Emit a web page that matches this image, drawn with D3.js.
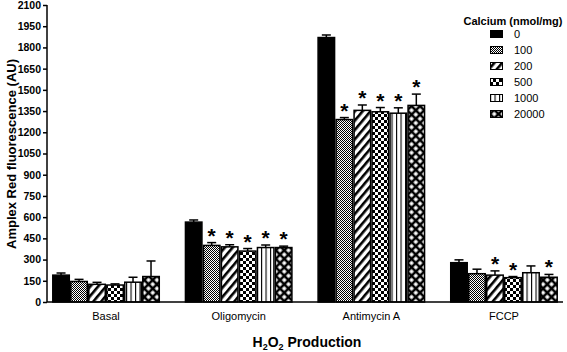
<!DOCTYPE html>
<html><head><meta charset="utf-8">
<script src="https://cdn.jsdelivr.net/npm/d3@7"></script>
<style>body{margin:0;background:#fff}svg{display:block;font-family:"Liberation Sans",Arial,sans-serif}</style>
</head><body><svg id="c" width="567" height="352"></svg>
<script>
const categories = ["Basal","Oligomycin","Antimycin A","FCCP"];
const series = ["0","100","200","500","1000","20000"];
const means = [
  [190,145,125,120,140,180],
  [565,400,390,360,385,385],
  [1870,1290,1355,1345,1335,1390],
  [278,200,190,172,207,175]
];
const errors = [
  [15,15,14,8,35,110],
  [15,20,15,18,18,10],
  [18,14,38,30,38,80],
  [20,32,30,8,48,20]
];
const significant = [
  [0,0,0,0,0,0],
  [0,1,1,1,1,1],
  [0,1,1,1,1,1],
  [0,0,1,1,0,1]
];
const yTicks = [0,150,300,450,600,750,900,1050,1200,1350,1500,1650,1800,1950,2100];

const svg = d3.select("#c");
const defs = svg.append("defs");
function pat(id,w,h,fn,tr){const p=defs.append("pattern").attr("id",id).attr("patternUnits","userSpaceOnUse").attr("width",w).attr("height",h);if(tr)p.attr("patternTransform",tr);fn(p);}
pat("p100",2,2,p=>{p.append("rect").attr("width",2).attr("height",2).attr("fill","#fff");p.append("rect").attr("width",1).attr("height",1).attr("fill","#000");p.append("rect").attr("x",1).attr("y",1).attr("width",1).attr("height",1).attr("fill","#000");});
pat("p200",6,6,p=>{p.append("rect").attr("width",6).attr("height",6).attr("fill","#fff");p.append("rect").attr("width",2.6).attr("height",6).attr("fill","#000");},"rotate(40)");
pat("p500",6,6,p=>{p.append("rect").attr("width",6).attr("height",6).attr("fill","#fff");p.append("rect").attr("width",3).attr("height",3).attr("fill","#000");p.append("rect").attr("x",3).attr("y",3).attr("width",3).attr("height",3).attr("fill","#000");});
pat("p1000",4.5,4,p=>{p.append("rect").attr("width",4.5).attr("height",4).attr("fill","#fff");p.append("rect").attr("width",1.1).attr("height",4).attr("fill","#000");});
pat("p20000",6,6,p=>{p.append("rect").attr("width",6).attr("height",6).attr("fill","#000");p.append("rect").attr("x",1.3).attr("y",1.3).attr("width",3.4).attr("height",3.4).attr("fill","#fff");},"rotate(45)");
const fills = ["#000","url(#p100)","url(#p200)","url(#p500)","url(#p1000)","url(#p20000)"];

const y = d3.scaleLinear().domain([0,2100]).range([302,5]);
const x0 = d3.scaleBand().domain(categories).range([47,563]).paddingInner(0.186).paddingOuter(0.038);
const x1 = d3.scaleBand().domain(series).range([0,x0.bandwidth()]);

const g = svg.append("g");
categories.forEach((c,ci)=>{
  series.forEach((s,si)=>{
    const bx = x0(c)+x1(s), bw = x1.bandwidth(), v = means[ci][si], e = errors[ci][si];
    const cx = bx+bw/2;
    g.append("line").attr("x1",cx).attr("x2",cx).attr("y1",y(v)).attr("y2",y(v+e)).attr("stroke","#000").attr("stroke-width",1.5);
    g.append("line").attr("x1",cx-4.5).attr("x2",cx+4.5).attr("y1",y(v+e)).attr("y2",y(v+e)).attr("stroke","#000").attr("stroke-width",1.5);
    g.append("rect").attr("x",bx+0.75).attr("y",y(v)).attr("width",bw-1.5).attr("height",y(0)-y(v)).attr("fill",fills[si]).attr("stroke","#000").attr("stroke-width",1.5);
    if(significant[ci][si]){
      g.append("text").attr("x",cx).attr("y",y(v+e)).attr("text-anchor","middle").attr("font-size",21).attr("font-weight","bold").attr("fill","#000").text("*");
    }
  });
});

const ya = svg.append("g").attr("transform","translate(47,0)").call(d3.axisLeft(y).tickValues(yTicks).tickSize(4).tickPadding(2).tickFormat(d3.format("d")));
ya.selectAll("path,line").attr("stroke","#000").attr("stroke-width",1.5);
ya.select(".domain").attr("d","M0,"+y(0)+"V"+y(2100));
ya.selectAll("text").attr("font-size",10.5).attr("font-weight","bold").attr("font-family","Liberation Sans, Arial, sans-serif").attr("fill","#000");

svg.append("line").attr("x1",47).attr("x2",563).attr("y1",y(0)).attr("y2",y(0)).attr("stroke","#000").attr("stroke-width",1.5);
svg.append("g").selectAll("text").data(categories).join("text")
  .attr("x",d=>x0(d)+x0.bandwidth()/2).attr("y",320).attr("text-anchor","middle").attr("font-size",11).text(d=>d);

const xt = svg.append("text").attr("x",307).attr("y",347).attr("text-anchor","middle").attr("font-size",14).attr("font-weight","bold");
xt.append("tspan").text("H");
xt.append("tspan").attr("font-size",9).attr("dy",3).text("2");
xt.append("tspan").attr("dy",-3).text("O");
xt.append("tspan").attr("font-size",9).attr("dy",3).text("2");
xt.append("tspan").attr("dy",-3).text(" Production");
svg.append("text").attr("transform","translate(16,154) rotate(-90)").attr("text-anchor","middle").attr("font-size",13).attr("font-weight","bold").text("Amplex Red fluorescence (AU)");

svg.append("text").attr("x",513).attr("y",25).attr("text-anchor","middle").attr("font-size",11).attr("font-weight","bold").text("Calcium (nmol/mg)");
const lg = svg.append("g").selectAll("g").data(series).join("g").attr("transform",(d,i)=>`translate(490,${34+i*16})`);
lg.append("rect").attr("x",0.5).attr("y",-3.5).attr("width",12).attr("height",7).attr("fill",(d,i)=>fills[i]).attr("stroke","#000").attr("stroke-width",1);
lg.append("text").attr("x",24).attr("y",4).attr("font-size",11).text(d=>d);
</script></body></html>
